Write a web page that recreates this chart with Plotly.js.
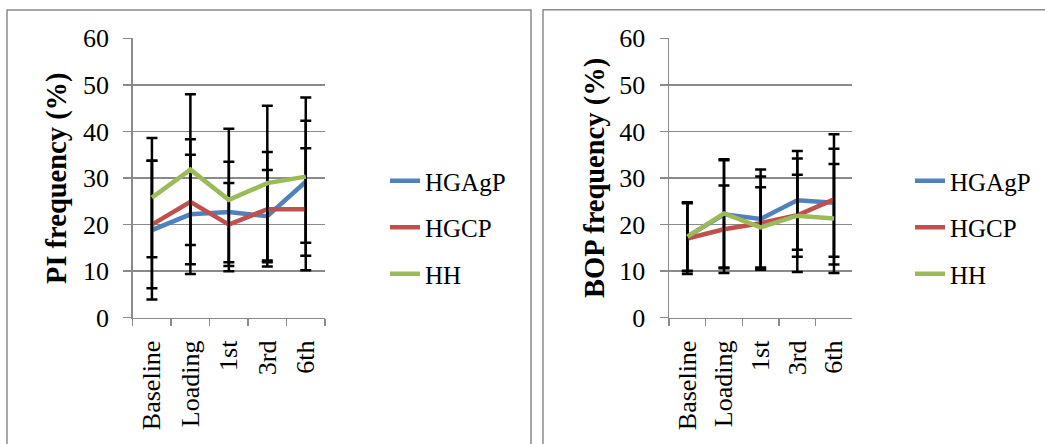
<!DOCTYPE html>
<html>
<head>
<meta charset="utf-8">
<script src="https://cdn.plot.ly/plotly-3.0.1.min.js"></script>
<style>html,body{margin:0;padding:0;background:#fff;}#chart{width:1045px;height:444px;}</style>
</head>
<body>
<div id="chart"></div>
<script>
// ---- data ----
const categories = ['Baseline', 'Loading', '1st', '3rd', '6th'];
const seriesNames = ['HGAgP', 'HGCP', 'HH'];

const piHGAgP = [18.8, 22.2, 22.7, 21.8, 29.2];
const piHGAgPErr = [14.9, 12.8, 10.8, 9.9, 13.1];
const piHGCP = [20.0, 24.9, 20.0, 23.3, 23.3];
const piHGCPErr = [13.7, 13.4, 8.9, 12.3, 13.1];
const piHH = [25.8, 31.8, 25.3, 28.9, 30.3];
const piHHErr = [12.8, 16.2, 15.3, 16.6, 17.0];

const bopHGAgP = [17.4, 22.2, 21.2, 25.2, 24.7];
const bopHGAgPErr = [7.4, 11.6, 10.6, 10.6, 11.6];
const bopHGCP = [17.0, 19.0, 20.3, 22.0, 25.4];
const bopHGCPErr = [7.6, 9.4, 10.0, 12.2, 14.0];
const bopHH = [17.4, 22.4, 19.4, 21.9, 21.3];
const bopHHErr = [7.3, 11.6, 8.6, 8.8, 11.7];

const yTickVals = [0, 10, 20, 30, 40, 50, 60];
const leftTitle = 'PI frequency (%)';
const rightTitle = 'BOP frequency (%)';

// ---- styling ----
const colors = ['#4F81BD', '#C0504D', '#9BBB59'];
const W = 1045, H = 444;
const FONT = 'Liberation Serif, Times New Roman, serif';
const GRAY = '#8a8a8a';

function mk(name, y, err, i, xa, ya, leg) {
  return {
    type: 'scatter', mode: 'lines', name: name, x: categories, y: y,
    xaxis: xa, yaxis: ya, legend: leg, legendgroup: leg + name,
    line: {color: colors[i], width: 4.5},
    error_y: {type: 'data', array: err, symmetric: true, visible: true,
              color: '#000', thickness: 2.5, width: 5.5}
  };
}

const traces = [
  mk(seriesNames[0], piHGAgP, piHGAgPErr, 0, 'x', 'y', 'legend'),
  mk(seriesNames[1], piHGCP, piHGCPErr, 1, 'x', 'y', 'legend'),
  mk(seriesNames[2], piHH, piHHErr, 2, 'x', 'y', 'legend'),
  mk(seriesNames[0], bopHGAgP, bopHGAgPErr, 0, 'x2', 'y2', 'legend2'),
  mk(seriesNames[1], bopHGCP, bopHGCPErr, 1, 'x2', 'y2', 'legend2'),
  mk(seriesNames[2], bopHH, bopHHErr, 2, 'x2', 'y2', 'legend2')
];

const px = v => v / W;
const py = v => 1 - v / H;
const PLOT_TOP = 38.3, PLOT_BOTTOM = 317.7;

function xAxis(d0, d1, anchor) {
  return {
    domain: [px(d0), px(d1)], anchor: anchor, type: 'category',
    range: [-0.5, 4.5], showgrid: false, zeroline: false,
    showline: true, linecolor: GRAY, linewidth: 1.5,
    ticks: 'outside', tickson: 'boundaries', ticklen: 7, tickcolor: GRAY, tickwidth: 1.5,
    tickangle: -90, tickfont: {family: FONT, size: 26, color: '#000'},
    ticklabelstandoff: 11, fixedrange: true
  };
}
function yAxis(anchor) {
  return {
    domain: [py(PLOT_BOTTOM), py(PLOT_TOP)], anchor: anchor, range: [0, 60],
    tickvals: yTickVals, showgrid: true, gridcolor: GRAY, gridwidth: 1.5,
    zeroline: false, showline: true, linecolor: GRAY, linewidth: 1.5,
    ticks: 'outside', ticklen: 8, tickcolor: GRAY, tickwidth: 1.5,
    tickfont: {family: FONT, size: 26, color: '#000'}, ticklabelstandoff: 9,
    fixedrange: true
  };
}

const legendBase = {
  xanchor: 'left', yanchor: 'top', traceorder: 'grouped', tracegroupgap: 11,
  font: {family: FONT, size: 25, color: '#000'}, bgcolor: 'rgba(0,0,0,0)',
  borderwidth: 0, itemclick: false, itemdoubleclick: false
};

const titleY = py((PLOT_TOP + PLOT_BOTTOM) / 2);
function yTitle(text, xc) {
  return {text: '<b>' + text + '</b>', xref: 'paper', yref: 'paper', x: px(xc), y: titleY,
          xanchor: 'center', yanchor: 'middle', textangle: -90, showarrow: false,
          font: {family: FONT, size: 28.5, color: '#000'}};
}

const layout = {
  width: W, height: H, margin: {l: 0, r: 0, t: 0, b: 0},
  paper_bgcolor: '#fff', plot_bgcolor: '#fff', showlegend: true,
  xaxis: xAxis(132.7, 325, 'y'),
  yaxis: yAxis('x'),
  xaxis2: xAxis(669, 852.3, 'y2'),
  yaxis2: yAxis('x2'),
  legend: Object.assign({}, legendBase, {x: px(385), y: py(158)}),
  legend2: Object.assign({}, legendBase, {x: px(910), y: py(158)}),
  annotations: [yTitle(leftTitle, 57), yTitle(rightTitle, 595)],
  shapes: [
    {type: 'rect', xref: 'paper', yref: 'paper', x0: px(7), x1: px(531), y0: -0.2, y1: py(10),
     line: {color: GRAY, width: 1.5}, fillcolor: 'rgba(0,0,0,0)', layer: 'below'},
    {type: 'rect', xref: 'paper', yref: 'paper', x0: px(543), x1: 1.2, y0: -0.2, y1: py(9.7),
     line: {color: GRAY, width: 1.5}, fillcolor: 'rgba(0,0,0,0)', layer: 'below'}
  ]
};

Plotly.newPlot('chart', traces, layout, {displayModeBar: false, staticPlot: true});
</script>
</body>
</html>
